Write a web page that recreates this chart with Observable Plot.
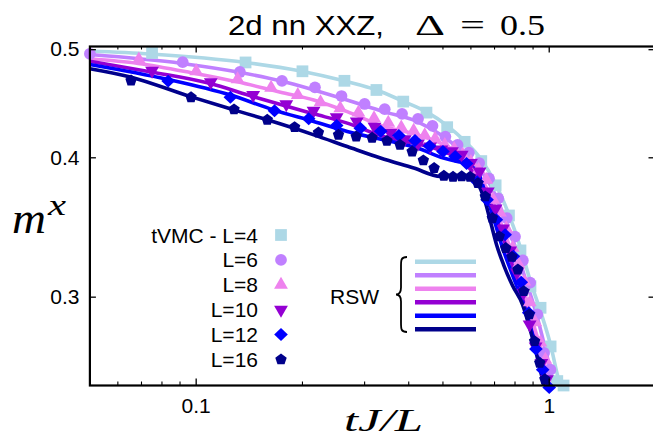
<!DOCTYPE html>
<html><head><meta charset="utf-8">
<script src="https://cdn.jsdelivr.net/npm/d3@7"></script>
<script src="https://cdn.jsdelivr.net/npm/@observablehq/plot@0.6"></script>
<style>
html,body{margin:0;padding:0;background:#fff;}
#chart{width:653px;height:439px;overflow:hidden;}
</style></head><body><div id="chart"></div>
<script>
// ---------- data ----------
const sizeLabels = ["L=4", "L=6", "L=8", "L=10", "L=12", "L=16"];
const legendLabels = ["tVMC - L=4", "L=6", "L=8", "L=10", "L=12", "L=16"];
const seriesColors = ["#add8e6", "#c080ff", "#ee82ee", "#9400d3", "#0000ff", "#00008b"];

// tVMC markers (x = tJ/L, y = m^x)
const tvmcX4 = [0.075, 0.138, 0.200, 0.263, 0.324, 0.386, 0.449, 0.514, 0.576, 0.642, 0.705, 0.769, 0.829, 0.885, 0.945, 1.009, 1.054, 1.098];
const tvmcY4 = [0.4966, 0.4870, 0.4782, 0.4689, 0.4601, 0.4492, 0.4391, 0.4261, 0.4134, 0.3973, 0.3779, 0.3551, 0.3304, 0.3068, 0.2935, 0.2710, 0.2523, 0.2500];
const tvmcX6 = [0.050, 0.0916, 0.133, 0.175, 0.217, 0.258, 0.300, 0.342, 0.383, 0.425, 0.467, 0.508, 0.550, 0.592, 0.633, 0.675, 0.717, 0.758, 0.800, 0.842, 0.883, 0.925, 0.967, 1.008];
const tvmcY6 = [0.4958, 0.4873, 0.4775, 0.4689, 0.4626, 0.4544, 0.4470, 0.4422, 0.4380, 0.4335, 0.4273, 0.4179, 0.4108, 0.4042, 0.3957, 0.3833, 0.3678, 0.3532, 0.3399, 0.3236, 0.3092, 0.2895, 0.2674, 0.2583];
const tvmcX8 = [0.0688, 0.100, 0.131, 0.163, 0.194, 0.225, 0.256, 0.288, 0.319, 0.350, 0.381, 0.413, 0.444, 0.475, 0.506, 0.538, 0.569, 0.600, 0.631, 0.663, 0.694, 0.725, 0.756, 0.788, 0.819, 0.850, 0.881, 0.913, 0.944, 0.975];
const tvmcY8 = [0.4900, 0.4782, 0.4705, 0.4622, 0.4553, 0.4486, 0.4431, 0.4391, 0.4341, 0.4300, 0.4259, 0.4229, 0.4190, 0.4160, 0.4108, 0.4073, 0.4025, 0.3966, 0.3902, 0.3823, 0.3668, 0.3573, 0.3457, 0.3322, 0.3209, 0.3098, 0.2968, 0.2848, 0.2732, 0.2637];
const tvmcX10 = [0.075, 0.110, 0.145, 0.180, 0.215, 0.250, 0.285, 0.320, 0.355, 0.390, 0.425, 0.460, 0.495, 0.530, 0.565, 0.600, 0.635, 0.670, 0.705, 0.740, 0.775, 0.810, 0.845, 0.880, 0.915, 0.950, 0.985];
const tvmcY10 = [0.4787, 0.4676, 0.4553, 0.4468, 0.4407, 0.4350, 0.4311, 0.4265, 0.4210, 0.4157, 0.4120, 0.4094, 0.4069, 0.4054, 0.4025, 0.3957, 0.3889, 0.3731, 0.3603, 0.3457, 0.3304, 0.3157, 0.3027, 0.2835, 0.2710, 0.2619, 0.2532];
const tvmcX12 = [0.0833, 0.125, 0.1667, 0.2083, 0.25, 0.2917, 0.3333, 0.375, 0.4167, 0.4583, 0.5, 0.5417, 0.5833, 0.625, 0.6667, 0.7083, 0.75, 0.7917, 0.8333, 0.875, 0.9167, 0.9583, 1.0];
const tvmcY12 = [0.4686, 0.4532, 0.4407, 0.4335, 0.4275, 0.4252, 0.4225, 0.4188, 0.4145, 0.4099, 0.4052, 0.4011, 0.3953, 0.3807, 0.3668, 0.3520, 0.3413, 0.3264, 0.3094, 0.2905, 0.2696, 0.2583, 0.2490];
const tvmcX16 = [0.0654, 0.0967, 0.128, 0.159, 0.190, 0.222, 0.253, 0.284, 0.315, 0.347, 0.378, 0.409, 0.440, 0.472, 0.503, 0.534, 0.565, 0.597, 0.628, 0.659, 0.690, 0.722, 0.753, 0.784, 0.815, 0.847, 0.878, 0.909, 0.940, 0.972];
const tvmcY16 = [0.4691, 0.4532, 0.4420, 0.4326, 0.4261, 0.4214, 0.4194, 0.4179, 0.4168, 0.4142, 0.4108, 0.4052, 0.3978, 0.3916, 0.3854, 0.3846, 0.3850, 0.3846, 0.3796, 0.3693, 0.3532, 0.3401, 0.3320, 0.3260, 0.3176, 0.3037, 0.2895, 0.2739, 0.2619, 0.2532];

// RSW curves
const rswX4 = [0.05, 0.0742, 0.1379, 0.1975, 0.2636, 0.3241, 0.3841, 0.4492, 0.5151, 0.5793, 0.6388, 0.7047, 0.7669, 0.8293, 0.8851, 0.9449, 1.0085, 1.0625, 1.112];
const rswY4 = [0.4987, 0.4956, 0.4870, 0.4785, 0.4686, 0.4601, 0.4498, 0.4398, 0.4273, 0.4134, 0.3994, 0.3791, 0.3566, 0.3322, 0.3098, 0.2913, 0.2720, 0.2532, 0.2424];
const rswX6 = [0.05, 0.0912, 0.1335, 0.1744, 0.2152, 0.2673, 0.3393, 0.4228, 0.5018, 0.5607, 0.6252, 0.6820, 0.7422, 0.8026, 0.8624, 0.9205, 0.9761, 1.0217, 1.0625];
const rswY6 = [0.4950, 0.4860, 0.4770, 0.4686, 0.4601, 0.4507, 0.4400, 0.4311, 0.4179, 0.4062, 0.3929, 0.3778, 0.3556, 0.3322, 0.3092, 0.2895, 0.2692, 0.2532, 0.2424];
const rswX8 = [0.05, 0.0685, 0.0995, 0.1306, 0.1733, 0.2152, 0.2678, 0.3393, 0.4228, 0.4921, 0.5607, 0.6252, 0.6730, 0.7278, 0.7870, 0.8457, 0.9026, 0.9572, 1.0019, 1.042];
const rswY8 = [0.4907, 0.4860, 0.4760, 0.4679, 0.4580, 0.4507, 0.4400, 0.4267, 0.4194, 0.4123, 0.4025, 0.3876, 0.3729, 0.3505, 0.3275, 0.3048, 0.2835, 0.2664, 0.2506, 0.2400];
const rswX10 = [0.05, 0.0746, 0.1083, 0.1453, 0.1816, 0.2152, 0.2678, 0.3393, 0.4228, 0.5018, 0.5607, 0.6115, 0.6600, 0.7139, 0.7719, 0.8293, 0.8851, 0.9387, 0.9826, 1.0217];
const rswY10 = [0.4883, 0.4775, 0.4667, 0.4538, 0.4446, 0.4380, 0.4297, 0.4179, 0.4117, 0.4052, 0.3984, 0.3876, 0.3729, 0.3505, 0.3262, 0.3036, 0.2823, 0.2648, 0.2506, 0.2400];
const rswX12 = [0.05, 0.0833, 0.1251, 0.1653, 0.2152, 0.2678, 0.3393, 0.4228, 0.5018, 0.5489, 0.5985, 0.6252, 0.6557, 0.6910, 0.7374, 0.7923, 0.8457, 0.8968, 0.9449, 0.9826, 1.0151];
const rswY12 = [0.4850, 0.4702, 0.4553, 0.4416, 0.4311, 0.4223, 0.4151, 0.4081, 0.3998, 0.3970, 0.3951, 0.3902, 0.3739, 0.3556, 0.3322, 0.3124, 0.2955, 0.2777, 0.2626, 0.2506, 0.2400];
const rswX16 = [0.05, 0.0651, 0.0964, 0.1278, 0.1589, 0.2154, 0.2678, 0.3327, 0.4134, 0.4921, 0.5718, 0.6252, 0.6557, 0.6820, 0.7093, 0.7422, 0.7870, 0.8402, 0.8909, 0.9326, 0.9636, 0.9890];
const rswY16 = [0.4808, 0.4727, 0.4538, 0.4416, 0.4326, 0.4194, 0.4094, 0.3998, 0.3916, 0.3849, 0.3849, 0.3796, 0.3668, 0.3505, 0.3343, 0.3209, 0.3073, 0.2955, 0.2777, 0.2621, 0.2506, 0.2400];

const xMajorTicks = [0.1, 1];
const xMinorTicks = [0.06, 0.07, 0.08, 0.09, 0.2, 0.3, 0.4, 0.5, 0.6, 0.7, 0.8, 0.9, 2];
const yMajorTicks = [0.3, 0.4, 0.5];

// ---------- symbols ----------
function rad(size) { return Math.sqrt(size / Math.PI); }
const symSquare = {draw(c, s) { const h = rad(s) * 0.98; c.rect(-h, -h, 2 * h, 2 * h); }};
const symCircle = {draw(c, s) { const r = rad(s) * 0.98; c.moveTo(r, 0); c.arc(0, 0, r, 0, 2 * Math.PI); }};
const symTriUp = {draw(c, s) { const R = rad(s) * 1.33; c.moveTo(0, -R); c.lineTo(0.866 * R, 0.5 * R); c.lineTo(-0.866 * R, 0.5 * R); c.closePath(); }};
const symTriDown = {draw(c, s) { const R = rad(s) * 1.33; c.moveTo(0, R); c.lineTo(0.866 * R, -0.5 * R); c.lineTo(-0.866 * R, -0.5 * R); c.closePath(); }};
const symDiamond = {draw(c, s) { const r = rad(s); const a = r * 1.14, b = r * 1.08; c.moveTo(0, -b); c.lineTo(a, 0); c.lineTo(0, b); c.lineTo(-a, 0); c.closePath(); }};
const symPentagon = {draw(c, s) { const R = rad(s) * 1.0; for (let k = 0; k < 5; k++) { const t = -Math.PI / 2 + k * 2 * Math.PI / 5; const px = R * Math.cos(t), py = R * Math.sin(t); if (k === 0) c.moveTo(px, py); else c.lineTo(px, py); } c.closePath(); }};
const symbols = [symSquare, symCircle, symTriUp, symTriDown, symDiamond, symPentagon];

const markerXs = [tvmcX4, tvmcX6, tvmcX8, tvmcX10, tvmcX12, tvmcX16];
const markerYs = [tvmcY4, tvmcY6, tvmcY8, tvmcY10, tvmcY12, tvmcY16];
const lineXs = [rswX4, rswX6, rswX8, rswX10, rswX12, rswX16];
const lineYs = [rswY4, rswY6, rswY8, rswY10, rswY12, rswY16];

const series = sizeLabels.map((name, i) => ({
  name, color: seriesColors[i], symbol: symbols[i],
  points: markerXs[i].map((x, j) => ({x, y: markerYs[i][j]})),
  curve: lineXs[i].map((x, j) => ({x, y: lineYs[i][j]}))
}));

// ---------- layout ----------
const W = 653, H = 439;
const mL = 89.4, mR = -2, mT = 46, mB = 54;
const frameW = W - mL - mR, frameH = H - mT - mB;
const majorLen = 6.5, minorLen = 3.5;

const marks = [
  ...series.map(s => Plot.line(s.curve, {x: "x", y: "y", stroke: s.color, strokeWidth: 3.6, curve: "monotone-x", clip: true})),
  ...series.map(s => Plot.dot(s.points, {x: "x", y: "y", symbol: s.symbol, r: 6, fill: s.color, stroke: "none"})),
  // inward ticks
  Plot.tickX(xMajorTicks, {x: d => d, insetTop: frameH - majorLen, strokeWidth: 1.3}),
  Plot.tickX(xMajorTicks, {x: d => d, insetBottom: frameH - majorLen, strokeWidth: 1.3}),
  Plot.tickX(xMinorTicks, {x: d => d, insetTop: frameH - minorLen, strokeWidth: 1.1}),
  Plot.tickX(xMinorTicks, {x: d => d, insetBottom: frameH - minorLen, strokeWidth: 1.1}),
  Plot.tickY(yMajorTicks, {y: d => d, insetRight: frameW - majorLen, strokeWidth: 1.3}),
  Plot.tickY(yMajorTicks, {y: d => d, insetLeft: frameW - majorLen, strokeWidth: 1.3}),
  Plot.frame({stroke: "black", strokeWidth: 2.2}),
  Plot.axisX({ticks: xMajorTicks, tickSize: 0, tickPadding: 13, tickFormat: d => String(d), fontSize: 21, label: null}),
  Plot.axisY({ticks: yMajorTicks, tickSize: 0, tickPadding: 10.4, tickFormat: d => d.toFixed(1), fontSize: 21, label: null})
];

const chart = Plot.plot({
  width: W, height: H,
  marginLeft: mL, marginRight: mR, marginTop: mT, marginBottom: mB,
  style: {fontFamily: "'Liberation Sans', Arial, sans-serif", background: "white", color: "black", overflow: "hidden"},
  x: {type: "log", domain: [0.05, 2]},
  y: {type: "log", domain: [0.25, 0.5033]},
  marks
});
document.getElementById("chart").appendChild(chart);

// ---------- title, axis labels, legend ----------
const svg = d3.select(chart);
const sans = "'Liberation Sans', Arial, sans-serif";
const serif = "'Liberation Serif', 'Times New Roman', serif";

function addText(x, y, str, opts) {
  const t = svg.append("text").attr("x", x).attr("y", y)
    .attr("text-anchor", opts.anchor || "start")
    .attr("font-family", opts.family || sans)
    .attr("font-size", opts.size || 21)
    .attr("fill", "black").text(str);
  if (opts.italic) t.attr("font-style", "italic");
  if (opts.len) t.attr("textLength", opts.len).attr("lengthAdjust", "spacingAndGlyphs");
  return t;
}

// title
addText(228, 35, "2d nn XXZ,", {size: 28, len: 156});
addText(415, 35, "Δ", {family: serif, size: 30, len: 30});
addText(460, 35, "=", {family: serif, size: 30, len: 25});
addText(500, 35, "0.5", {family: serif, size: 30, len: 45});

// y label m^x
addText(12, 233, "m", {family: serif, italic: true, size: 44, len: 34});
addText(48, 215, "x", {family: serif, italic: true, size: 29, len: 18});

// x label tJ/L
addText(344, 431, "tJ/L", {family: serif, italic: true, size: 32, len: 79});

// tVMC legend
const legX = 258, legSymX = 281, legY0 = 235, legDy = 24.9;
legendLabels.forEach((lab, i) => {
  const cy = legY0 + i * legDy;
  addText(legX, cy + 7.5, lab, {anchor: "end", size: 21});
  svg.append("path").attr("transform", `translate(${legSymX},${cy})`)
    .attr("d", d3.symbol(symbols[i], 36 * Math.PI)()).attr("fill", seriesColors[i]);
});

// RSW legend
const rswY0 = 261.7, rswDy = 13.5, rswX1 = 415, rswX2 = 476;
addText(379, 303.5, "RSW", {anchor: "end", size: 21});
const bx = 407, bTop = 257, bBot = 332, bMid = (bTop + bBot) / 2;
svg.append("path").attr("fill", "none").attr("stroke", "black").attr("stroke-width", 1.8)
  .attr("d", `M${bx},${bTop} C${bx-6},${bTop} ${bx-6},${bTop+3} ${bx-6},${bTop+9} L${bx-6},${bMid-7} C${bx-6},${bMid-2} ${bx-8},${bMid} ${bx-11},${bMid} C${bx-8},${bMid} ${bx-6},${bMid+2} ${bx-6},${bMid+7} L${bx-6},${bBot-9} C${bx-6},${bBot-3} ${bx-6},${bBot} ${bx},${bBot}`);
seriesColors.forEach((c, i) => {
  svg.append("line").attr("x1", rswX1).attr("x2", rswX2)
    .attr("y1", rswY0 + i * rswDy).attr("y2", rswY0 + i * rswDy)
    .attr("stroke", c).attr("stroke-width", 4.5);
});
</script></body></html>
